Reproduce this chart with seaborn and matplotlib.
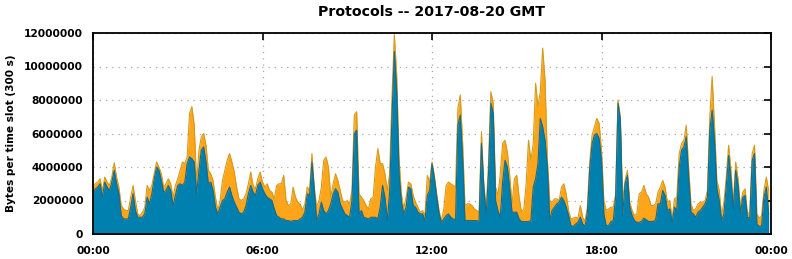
import numpy as np
import pandas as pd
import matplotlib
matplotlib.use("Agg")
import matplotlib.pyplot as plt
import seaborn as sns

# 5-minute slots over 2017-08-20 (values in millions of bytes per slot)
total_m = [
    2.8, 3.0, 3.1, 3.3, 2.6, 3.4, 3.1, 2.9, 3.4, 4.25,
    3.4, 2.8, 1.7, 1.5, 1.4, 1.4, 2.2, 2.9, 2.0, 1.2,
    1.1, 1.3, 1.6, 2.9, 2.6, 2.9, 3.6, 4.3, 4.0, 3.6,
    2.8, 3.0, 3.3, 3.0, 2.2, 2.9, 3.3, 3.8, 4.3, 4.2,
    4.6, 7.2, 7.6, 6.5, 3.0, 5.0, 5.8, 6.0, 5.3, 3.8,
    3.6, 3.2, 2.2, 1.4, 2.0, 3.2, 3.8, 4.4, 4.8, 4.3,
    3.7, 2.8, 2.1, 2.0, 2.1, 2.4, 3.0, 3.7, 2.9, 2.7,
    3.3, 3.7, 3.1, 2.8, 3.0, 2.6, 2.5, 2.1, 2.9, 3.0,
    3.0, 3.5, 2.0, 1.7, 1.8, 2.8, 2.2, 1.9, 1.8, 1.4,
    1.8, 2.8, 2.6, 4.8, 2.8, 1.6, 2.0, 2.8, 4.4, 4.6,
    4.0, 2.2, 3.0, 3.6, 3.2, 2.6, 2.0, 1.9, 2.0, 1.8,
    2.6, 7.1, 7.3, 2.4, 2.2, 2.0, 1.7, 1.5, 2.1, 2.2,
    4.0, 5.1, 4.2, 4.2, 3.6, 2.6, 3.6, 8.2, 11.9, 9.5,
    4.5, 2.4, 1.5, 2.2, 3.1, 3.0, 2.3, 1.9, 1.6, 1.3,
    1.4, 1.1, 3.5, 3.1, 4.3, 3.5, 2.4, 1.4, 0.8, 1.5,
    2.9, 3.1, 3.0, 2.9, 2.8, 7.5, 8.3, 5.5, 1.7, 1.8,
    1.8, 1.7, 1.5, 1.4, 1.3, 6.1, 3.0, 1.5, 4.2, 8.5,
    7.8, 2.8, 2.3, 3.6, 5.4, 5.6, 4.9, 3.5, 1.8, 3.3,
    3.5, 2.2, 1.3, 1.5, 3.0, 5.6, 4.4, 5.4, 9.0, 7.6,
    8.5, 11.1, 9.2, 4.5, 2.0, 1.9, 2.1, 2.1, 2.0, 2.8,
    3.0, 2.4, 1.4, 0.9, 0.95, 1.0, 0.95, 1.7, 1.0, 0.75,
    1.6, 4.3, 5.9, 6.4, 6.9, 6.6, 5.0, 2.0, 1.4, 1.5,
    1.6, 1.6, 2.4, 8.0, 7.0, 2.0, 3.2, 3.8, 1.9, 1.4,
    1.1, 1.2, 2.4, 2.5, 2.9, 2.4, 2.2, 1.7, 1.7, 1.8,
    2.5, 2.8, 3.2, 2.8, 1.9, 2.0, 0.9, 2.1, 2.2, 4.8,
    5.4, 5.6, 6.5, 4.0, 1.8, 1.4, 1.5, 1.8, 1.9, 1.9,
    2.0, 2.6, 7.0, 9.4, 6.5, 3.2, 2.6, 1.1, 1.9, 3.4,
    5.3, 3.8, 1.8, 4.3, 3.3, 1.6, 2.5, 2.7, 1.2, 1.3,
    4.8, 5.3, 1.2, 0.95, 1.1, 2.6, 3.4, 2.6,
]
blue_m = [
    2.4, 2.7, 2.8, 3.0, 2.2, 3.1, 2.8, 2.6, 3.1, 3.8,
    3.0, 2.4, 1.1, 0.9, 0.9, 0.9, 1.6, 2.4, 1.4, 1.0,
    1.0, 1.0, 1.2, 2.2, 1.8, 2.4, 3.3, 4.0, 3.8, 3.2,
    2.5, 2.6, 2.9, 2.6, 1.7, 2.3, 2.9, 3.0, 2.9, 3.1,
    4.2, 4.6, 4.5, 4.3, 2.4, 3.8, 5.0, 5.2, 4.3, 3.0,
    3.1, 2.6, 1.6, 1.2, 1.6, 2.0, 2.1, 2.5, 2.8, 2.3,
    1.9, 1.6, 1.3, 1.2, 1.3, 1.7, 2.4, 2.9, 2.5, 2.3,
    2.9, 3.1, 2.7, 2.4, 2.2, 2.1, 2.0, 1.5, 1.1, 1.0,
    0.9, 0.9, 0.8, 0.8, 0.75, 0.8, 0.8, 0.8, 0.9, 1.0,
    1.3, 2.4, 2.3, 4.3, 2.6, 0.8, 1.2, 1.9, 1.4, 1.2,
    1.4, 1.8, 2.4, 2.7, 2.5, 1.8, 1.5, 1.2, 1.1, 1.0,
    2.0, 6.0, 6.2, 1.2, 1.4, 1.0, 0.95, 0.9, 1.0, 1.0,
    1.0, 0.9, 1.6, 2.9, 2.2, 0.8, 2.5, 7.0, 10.9, 8.5,
    3.6, 1.9, 1.2, 1.6, 2.8, 2.7, 1.7, 1.6, 1.3, 1.2,
    1.2, 0.8, 2.3, 2.6, 4.2, 3.3, 2.2, 1.2, 0.7, 0.9,
    1.1, 1.2, 1.0, 0.9, 0.85, 6.5, 7.1, 4.5, 0.8, 0.8,
    0.8, 0.8, 0.8, 0.8, 0.75, 5.4, 2.8, 1.1, 3.6, 7.8,
    7.2, 2.0, 1.4, 1.0, 3.1, 4.4, 4.0, 2.7, 1.3, 1.3,
    1.3, 0.9, 0.74, 0.74, 0.74, 0.74, 0.8, 2.8, 3.3, 4.2,
    6.9, 6.4, 5.6, 4.0, 0.84, 1.4, 1.6, 1.8, 1.9, 2.2,
    2.0, 1.6, 1.1, 0.5, 0.45, 0.6, 0.7, 1.0, 0.6, 0.45,
    1.3, 3.9, 5.4, 5.9, 6.0, 5.7, 4.4, 1.2, 0.5, 0.5,
    0.74, 0.8, 2.2, 7.8, 6.8, 1.1, 3.0, 3.5, 1.6, 1.1,
    0.8, 0.7, 0.7, 0.75, 0.95, 0.85, 0.75, 0.75, 0.75, 0.85,
    1.8, 1.8, 2.6, 2.3, 1.4, 1.5, 0.7, 1.6, 1.4, 4.0,
    5.0, 5.2, 5.8, 3.4, 1.3, 1.2, 1.0, 1.3, 1.4, 1.6,
    1.8, 2.2, 6.2, 7.4, 5.6, 2.7, 2.0, 0.8, 1.2, 2.9,
    4.7, 3.2, 1.5, 3.8, 2.9, 1.2, 2.2, 2.3, 0.95, 1.0,
    4.4, 4.8, 0.6, 0.45, 0.5, 2.2, 2.8, 1.2,
]
slot_minutes = 5
x_tick_labels = ["00:00", "06:00", "12:00", "18:00", "00:00"]
y_ticks = [0, 2000000, 4000000, 6000000, 8000000, 10000000, 12000000]
title = "Protocols -- 2017-08-20 GMT"
ylabel = "Bytes per time slot (300 s)"

n = len(total_m)
df = pd.DataFrame({
    "hour": np.arange(n) * slot_minutes / 60.0,
    "total": np.array(total_m) * 1e6,
    "blue": np.array(blue_m) * 1e6,
})

sns.set_style("white")
plt.rcParams["font.family"] = ["DejaVu Sans"]
plt.rcParams["font.weight"] = "bold"
plt.rcParams["text.color"] = "black"
plt.rcParams["axes.labelcolor"] = "black"
plt.rcParams["xtick.color"] = "black"
plt.rcParams["ytick.color"] = "black"

fig = plt.figure(figsize=(7.92, 2.59), dpi=100)
ax = fig.add_axes([93 / 792, 1 - 234 / 259, (771 - 93) / 792, (234 - 33) / 259])

ORANGE = "#ffa51a"
ORANGE_EDGE = "#d49a1a"
BLUE = "#0080ae"
BLUE_EDGE = "#176b8c"

ax.fill_between(df["hour"], 0, df["total"], color=ORANGE, lw=0, zorder=2)
sns.lineplot(data=df, x="hour", y="total", ax=ax, color=ORANGE_EDGE, lw=0.8, zorder=3)
ax.fill_between(df["hour"], 0, df["blue"], color=BLUE, lw=0, zorder=4)
sns.lineplot(data=df, x="hour", y="blue", ax=ax, color=BLUE_EDGE, lw=0.8, zorder=5)

ax.set_xlim(0, 24)
ax.set_ylim(0, 12000000)
ax.set_xticks([0, 6, 12, 18, 24])
ax.set_xticklabels(x_tick_labels)
ax.set_yticks(y_ticks)
ax.set_yticklabels([str(v) for v in y_ticks])
ax.grid(True, color="#a8a8a8", linestyle=(0, (1, 4)), lw=0.9, zorder=6)
ax.set_axisbelow(False)
ax.tick_params(axis="both", direction="in", length=5, width=1.2, colors="black",
               top=True, right=True, labelsize=7.7)
ax.tick_params(axis="y", pad=7)
ax.tick_params(axis="x", pad=9)
for lab in ax.get_xticklabels() + ax.get_yticklabels():
    lab.set_fontweight("bold")
    lab.set_color("black")
for s in ax.spines.values():
    s.set_visible(True)
    s.set_color("black")
    s.set_linewidth(1.3)
    s.set_zorder(10)

ax.set_xlabel("")
ax.set_ylabel(ylabel, fontsize=7.6, fontweight="bold", labelpad=6, color="black")
ax.set_title(title, fontsize=10.2, fontweight="bold", pad=12, color="black")

fig.savefig("out.png", dpi=100)
